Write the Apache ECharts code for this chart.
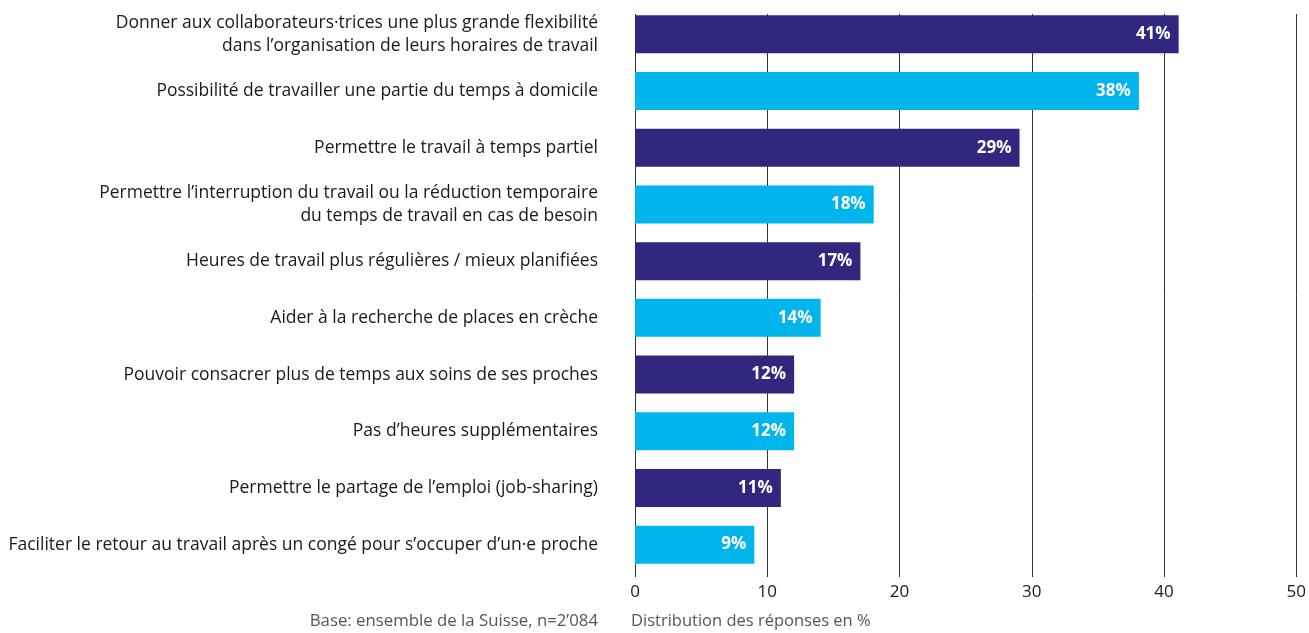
<!DOCTYPE html>
<html>
<head>
<meta charset="utf-8">
<script src="https://cdn.jsdelivr.net/npm/echarts@6/dist/echarts.min.js"></script>
<style>
  html, body { margin: 0; padding: 0; background: #fff; }
  #chart { width: 1309px; height: 633px; }
</style>
</head>
<body>
<div id="chart"></div>
<script>
const categories = [
  'Donner aux collaborateurs·trices une plus grande flexibilité\ndans l’organisation de leurs horaires de travail',
  'Possibilité de travailler une partie du temps à domicile',
  'Permettre le travail à temps partiel',
  'Permettre l’interruption du travail ou la réduction temporaire\ndu temps de travail en cas de besoin',
  'Heures de travail plus régulières / mieux planifiées',
  'Aider à la recherche de places en crèche',
  'Pouvoir consacrer plus de temps aux soins de ses proches',
  'Pas d’heures supplémentaires',
  'Permettre le partage de l’emploi (job-sharing)',
  'Faciliter le retour au travail après un congé pour s’occuper d’un·e proche'
]
const values = [41, 38, 29, 18, 17, 14, 12, 12, 11, 9]
const barColors = ['#31277f', '#00b5ec']

const font = '"Open Sans", "Noto Sans", sans-serif'

const chart = echarts.init(document.getElementById('chart'))
chart.setOption({
  animation: false,
  textStyle: { fontFamily: font },
  // grid 0: gridlines + tick labels, grid 1: the bars
  grid: [
    { left: 635, right: 11, top: 14, bottom: 56 },
    { left: 635, right: 11, top: 6, bottom: 60 }
  ],
  xAxis: [{
    type: 'value',
    gridIndex: 0,
    min: 0,
    max: 50,
    interval: 10,
    axisLine: { show: false },
    axisTick: { show: false },
    axisLabel: { color: '#1a1a1a', fontSize: 17, margin: 7, fontFamily: font },
    splitLine: { show: true, lineStyle: { color: '#333', width: 1 } }
  }, {
    type: 'value',
    gridIndex: 1,
    min: 0,
    max: 50,
    show: false
  }],
  yAxis: [{
    type: 'category',
    gridIndex: 0,
    show: false,
    data: ['']
  }, {
    type: 'category',
    gridIndex: 1,
    inverse: true,
    data: categories,
    axisLine: { show: false },
    axisTick: { show: false },
    axisLabel: {
      color: '#1a1a1a',
      fontSize: 17.5,
      margin: 37,
      lineHeight: 23,
      align: 'right',
      fontFamily: font
    }
  }],
  series: [{
    type: 'bar',
    xAxisIndex: 1,
    yAxisIndex: 1,
    data: values,
    barCategoryGap: '33%',
    itemStyle: {
      color: p => barColors[p.dataIndex % 2]
    },
    label: {
      show: true,
      position: 'insideRight',
      formatter: '{c}%',
      color: '#fff',
      fontWeight: 'bold',
      fontSize: 17,
      distance: 8,
      fontFamily: font
    }
  }],
  graphic: [
    {
      type: 'text',
      right: 1309 - 598,
      top: 613,
      style: { text: 'Base: ensemble de la Suisse, n=2’084', fill: '#555', fontSize: 16.8, fontFamily: font }
    },
    {
      type: 'text',
      left: 631,
      top: 613,
      style: { text: 'Distribution des réponses en %', fill: '#555', fontSize: 16.5, fontFamily: font }
    }
  ]
})
</script>
</body>
</html>
